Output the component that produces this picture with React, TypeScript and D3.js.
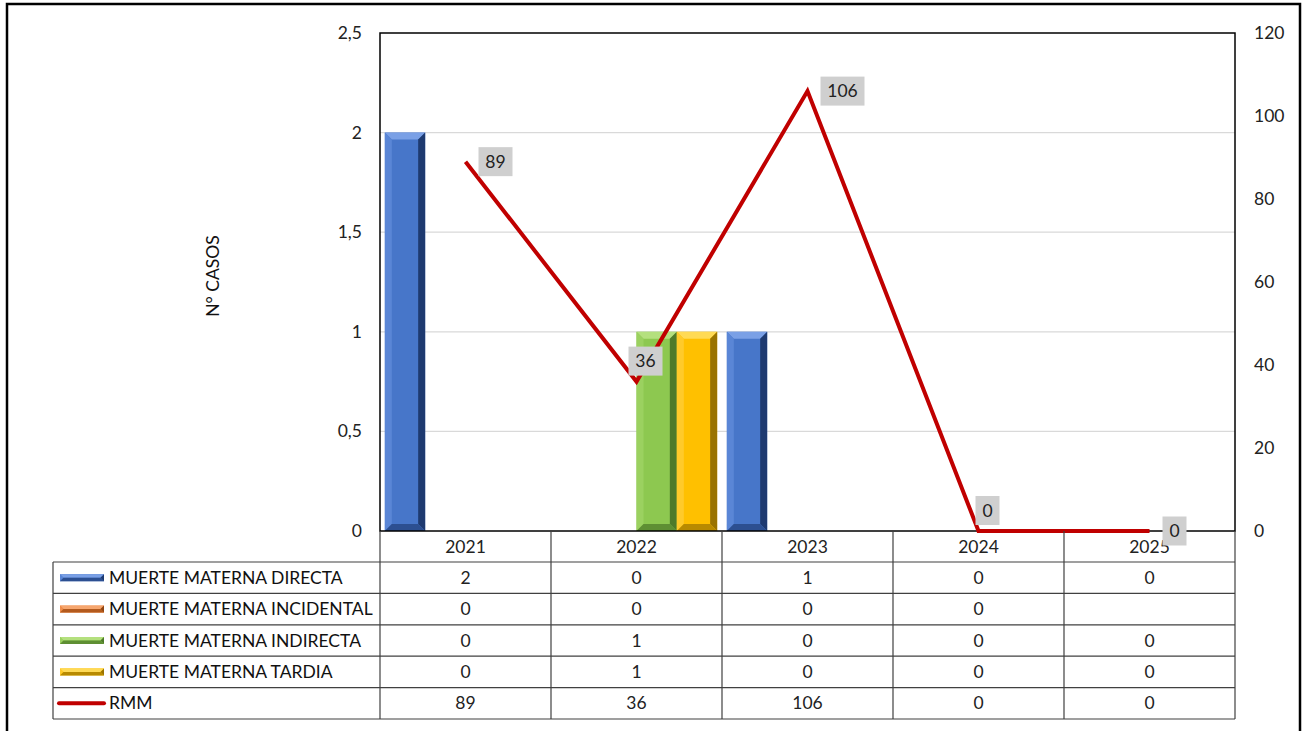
import React from "react";
import * as d3 from "d3";

const years = ["2021", "2022", "2023", "2024", "2025"];
const seriesNames = [
  "MUERTE MATERNA DIRECTA",
  "MUERTE MATERNA INCIDENTAL",
  "MUERTE MATERNA INDIRECTA",
  "MUERTE MATERNA TARDIA",
];
const directa: (number | null)[] = [2, 0, 1, 0, 0];
const incidental: (number | null)[] = [0, 0, 0, 0, null];
const indirecta: (number | null)[] = [0, 1, 0, 0, 0];
const tardia: (number | null)[] = [0, 1, 0, 0, 0];
const rmm: number[] = [89, 36, 106, 0, 0];
const rmmLabelPlacement = ["right", "above", "right", "above", "right"];
const leftTicks = [0, 0.5, 1, 1.5, 2, 2.5];
const rightTicks = [0, 20, 40, 60, 80, 100, 120];

const seriesValues = [directa, incidental, indirecta, tardia];

const palettes = [
  { face: "#4776C9", top: "#7AA0E6", left: "#5A86D6", right: "#1E3A70", bottom: "#2C4F91" },
  { face: "#ED7D31", top: "#F6A66E", left: "#F08E4C", right: "#8F4512", bottom: "#B35A1D" },
  { face: "#8DC850", top: "#B4E07E", left: "#9BD160", right: "#4E7A2A", bottom: "#5E8F33" },
  { face: "#FFC000", top: "#FFDA55", left: "#FFCA2A", right: "#9A7300", bottom: "#B88A00" },
];

const FONT = "Lato, 'Open Sans', sans-serif";
const FS = 17.5;

function BevelBar({ x, y, w, h, p }: { x: number; y: number; w: number; h: number; p: any }) {
  const b = Math.min(7, w / 5, h / 2);
  return (
    <g>
      <rect x={x} y={y} width={w} height={h} fill={p.face} />
      <polygon points={`${x},${y} ${x + w},${y} ${x + w - b},${y + b} ${x + b},${y + b}`} fill={p.top} />
      <polygon points={`${x},${y} ${x + b},${y + b} ${x + b},${y + h - b} ${x},${y + h}`} fill={p.left} />
      <polygon points={`${x + w},${y} ${x + w},${y + h} ${x + w - b},${y + h - b} ${x + w - b},${y + b}`} fill={p.right} />
      <polygon points={`${x},${y + h} ${x + b},${y + h - b} ${x + w - b},${y + h - b} ${x + w},${y + h}`} fill={p.bottom} />
    </g>
  );
}

export default function App() {
  const W = 1303;
  const H = 731;
  const plotL = 380;
  const plotR = 1235;
  const plotT = 33;
  const plotB = 531;

  const x = d3.scaleBand<string>().domain(years).range([plotL, plotR]).padding(0);
  const xs = d3
    .scaleBand<number>()
    .domain([0, 1, 2, 3])
    .range([0, x.bandwidth()])
    .paddingInner(0)
    .paddingOuter(0.12);
  const yL = d3.scaleLinear().domain([0, 2.5]).range([plotB, plotT]);
  const yR = d3.scaleLinear().domain([0, 120]).range([plotB, plotT]);
  const fmt = (v: number) => String(v).replace(".", ",");

  const line = d3
    .line<number>()
    .x((_, i) => (x(years[i]) as number) + x.bandwidth() / 2)
    .y((d) => yR(d));

  const rowTop = 562;
  const rowH = 31.4;
  const tableL = 53;
  const rowLabels = [...seriesNames, "RMM"];
  const rowValues: (number | null)[][] = [...seriesValues, rmm];

  const labelBox = (i: number) => {
    const px = (x(years[i]) as number) + x.bandwidth() / 2;
    const py = yR(rmm[i]);
    const txt = String(rmm[i]);
    const tw = txt.length * 10 + 14;
    const bh = 29;
    let bx: number, by: number;
    if (rmmLabelPlacement[i] === "right") {
      bx = px + 13;
      by = py - bh / 2;
    } else {
      bx = px + 9 - tw / 2;
      by = py - bh - 6;
    }
    return (
      <g key={`lab${i}`}>
        <rect x={bx} y={by} width={tw} height={bh} fill="#cfcfcf" />
        <text x={bx + tw / 2} y={by + bh / 2 + 6} textAnchor="middle" fontSize={FS} fill="#222">
          {txt}
        </text>
      </g>
    );
  };

  return (
    <svg width={W} height={H} style={{ position: "absolute", left: 0, top: 0 }} fontFamily={FONT}>
      <rect x={0} y={0} width={W} height={H} fill="#ffffff" />
      <rect x={7} y={4} width={1293} height={760} fill="#ffffff" stroke="#000" strokeWidth={2.5} />

      {/* gridlines */}
      {leftTicks
        .filter((t) => t > 0 && t < 2.5)
        .map((t) => (
          <line key={t} x1={plotL} x2={plotR} y1={yL(t)} y2={yL(t)} stroke="#d9d9d9" strokeWidth={1.2} />
        ))}

      {/* bars */}
      {seriesValues.map((vals, si) =>
        vals.map((v, ci) => {
          if (!v) return null;
          const bx = (x(years[ci]) as number) + (xs(si) as number);
          return (
            <BevelBar key={`${si}-${ci}`} x={bx} y={yL(v)} w={xs.bandwidth()} h={plotB - yL(v)} p={palettes[si]} />
          );
        })
      )}

      {/* plot border */}
      <rect x={plotL} y={plotT} width={plotR - plotL} height={plotB - plotT} fill="none" stroke="#000" strokeWidth={1.5} />

      {/* RMM line */}
      <path d={line(rmm) as string} fill="none" stroke="#C00000" strokeWidth={4} strokeLinejoin="miter" />

      {/* RMM labels (except last, drawn above table header) */}
      {rmm.map((_, i) => (i < rmm.length - 1 ? labelBox(i) : null))}

      {/* left axis labels */}
      {leftTicks.map((t) => (
        <text key={t} x={362} y={yL(t) + 6} textAnchor="end" fontSize={FS} fill="#222">
          {fmt(t)}
        </text>
      ))}
      {/* right axis labels */}
      {rightTicks.map((t) => (
        <text key={t} x={1254} y={yR(t) + 6} textAnchor="start" fontSize={FS} fill="#222">
          {t}
        </text>
      ))}

      {/* y title */}
      <text transform={`translate(219,276) rotate(-90)`} textAnchor="middle" fontSize={FS} fill="#111">
        N° CASOS
      </text>

      {/* data table */}
      <g stroke="#404040" strokeWidth={1.2}>
        {d3.range(6).map((r) => (
          <line key={r} x1={tableL} x2={plotR} y1={rowTop + r * rowH} y2={rowTop + r * rowH} />
        ))}
        <line x1={tableL} x2={tableL} y1={rowTop} y2={rowTop + 5 * rowH} />
        <line x1={plotL} x2={plotL} y1={plotB} y2={rowTop + 5 * rowH} />
        {years.map((yr) => (
          <line
            key={yr}
            x1={(x(yr) as number) + x.bandwidth()}
            x2={(x(yr) as number) + x.bandwidth()}
            y1={plotB}
            y2={rowTop + 5 * rowH}
          />
        ))}
      </g>

      {/* year headers */}
      {years.map((yr) => (
        <text key={yr} x={(x(yr) as number) + x.bandwidth() / 2} y={553} textAnchor="middle" fontSize={FS} fill="#222">
          {yr}
        </text>
      ))}

      {labelBox(rmm.length - 1)}

      {/* row labels with legend keys */}
      {rowLabels.map((lab, r) => {
        const cy = rowTop + r * rowH + rowH / 2;
        return (
          <g key={lab}>
            {r < 4 ? (
              <BevelBar x={60} y={cy - 3.5} w={44} h={7} p={palettes[r]} />
            ) : (
              <line x1={59} x2={104} y1={cy} y2={cy} stroke="#C00000" strokeWidth={4} strokeLinecap="round" />
            )}
            <text x={109} y={cy + 6} fontSize={FS} fill="#111">
              {lab}
            </text>
          </g>
        );
      })}

      {/* table values */}
      {rowValues.map((vals, r) =>
        vals.map((v, ci) =>
          v === null ? null : (
            <text
              key={`${r}-${ci}`}
              x={(x(years[ci]) as number) + x.bandwidth() / 2}
              y={rowTop + r * rowH + rowH / 2 + 6}
              textAnchor="middle"
              fontSize={FS}
              fill="#222"
            >
              {v}
            </text>
          )
        )
      )}
    </svg>
  );
}
